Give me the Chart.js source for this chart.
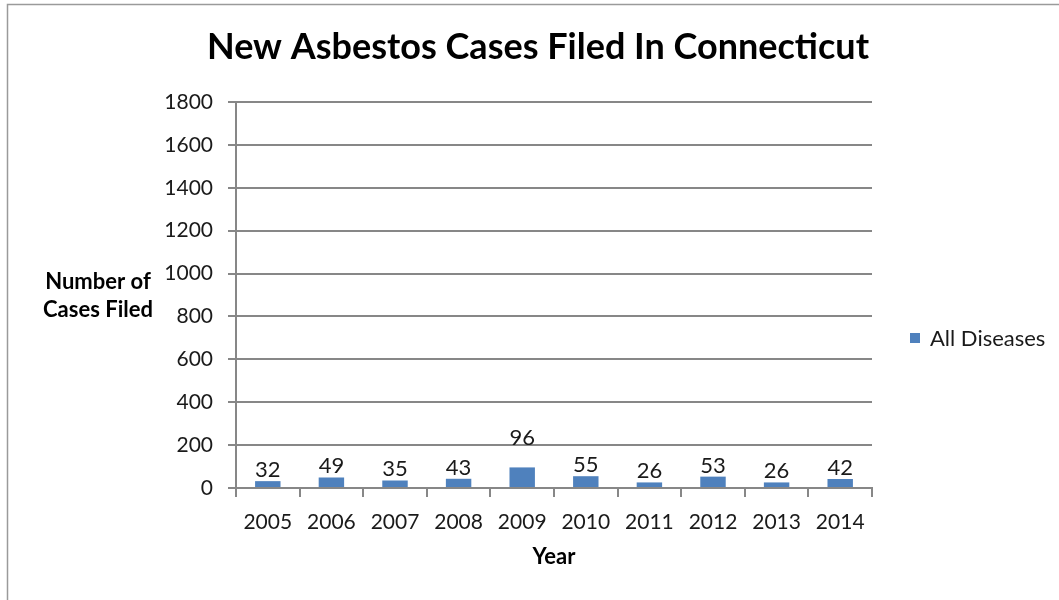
<!DOCTYPE html>
<html>
<head>
<meta charset="utf-8">
<script src="https://cdn.jsdelivr.net/npm/chart.js@4"></script>
<style>
  html, body { margin: 0; padding: 0; background: #fff; }
  #wrap { width: 1059px; height: 600px; position: relative; }
</style>
</head>
<body>
<div id="wrap"><canvas id="chart" width="1059" height="600"></canvas></div>
<script>
const years = ['2005', '2006', '2007', '2008', '2009', '2010', '2011', '2012', '2013', '2014'];
const allDiseases = [32, 49, 35, 43, 96, 55, 26, 53, 26, 42];
const yTicks = [0, 200, 400, 600, 800, 1000, 1200, 1400, 1600, 1800];
const chartTitle = 'New Asbestos Cases Filed In Connecticut';
const seriesName = 'All Diseases';
const yTitle = ['Number of', 'Cases Filed'];
const xTitle = 'Year';

const FONT = 'Lato, "Open Sans", sans-serif';
const BAR = '#4f81bd';
const GRID = '#878787';

// extra text: outer frame, title, axis titles, legend, value labels
const decor = {
    id: 'decor',
    afterDraw(chart) {
        const ctx = chart.ctx;
        const area = chart.chartArea;
        const yScale = chart.scales.y;
        ctx.save();
        // outer frame
        ctx.strokeStyle = '#9a9a9a';
        ctx.lineWidth = 1.5;
        ctx.strokeRect(7.5, 4.5, 1100, 700);

        ctx.fillStyle = '#000';
        ctx.textAlign = 'center';
        ctx.textBaseline = 'middle';
        ctx.font = 'bold 36px ' + FONT;
        ctx.fillText(chartTitle, 538, 47);

        ctx.font = 'bold 22px ' + FONT;
        ctx.fillText(yTitle[0], 98, 282);
        ctx.fillText(yTitle[1], 98, 310);
        ctx.fillText(xTitle, (area.left + area.right) / 2, 557);

        // legend
        ctx.fillStyle = BAR;
        ctx.fillRect(910, 333, 10, 10);
        ctx.fillStyle = '#1a1a1a';
        ctx.textAlign = 'left';
        ctx.font = '22px ' + FONT;
        ctx.fillText(seriesName, 930, 339);

        // value labels, lifted above a gridline they would run into
        const meta = chart.getDatasetMeta(0);
        ctx.textAlign = 'center';
        ctx.textBaseline = 'alphabetic';
        ctx.font = '22px ' + FONT;
        meta.data.forEach((bar, i) => {
            let base = bar.y - 4;
            const top = base - 16;
            yTicks.forEach(t => {
                const gy = yScale.getPixelForValue(t);
                if (t > 0 && top < gy + 4 && top > gy - 4) base = gy;
            });
            ctx.fillText(String(allDiseases[i]), bar.x, base);
        });
        ctx.restore();
    }
};

new Chart(document.getElementById('chart'), {
    type: 'bar',
    data: {
        labels: years,
        datasets: [{
            label: seriesName,
            data: allDiseases,
            backgroundColor: BAR,
            barPercentage: 0.8,
            categoryPercentage: 0.5
        }]
    },
    options: {
        responsive: false,
        animation: false,
        layout: { padding: { left: 0, top: 102, right: 187, bottom: 0 } },
        plugins: {
            legend: { display: false },
            tooltip: { enabled: false }
        },
        scales: {
            x: {
                afterFit: s => { s.height = 112; },
                grid: {
                    offset: true,
                    drawOnChartArea: false,
                    drawTicks: true,
                    tickLength: 9,
                    color: GRID,
                    lineWidth: 2
                },
                border: { color: GRID, width: 2 },
                ticks: { color: '#1a1a1a', font: { family: FONT, size: 21 }, padding: 13, maxRotation: 0 }
            },
            y: {
                min: 0,
                max: 1800,
                afterFit: s => { s.width = 236; },
                afterBuildTicks: s => { s.ticks = yTicks.map(v => ({ value: v })); },
                grid: { color: GRID, lineWidth: 2, tickLength: 8 },
                border: { color: GRID, width: 2 },
                ticks: {
                    color: '#1a1a1a',
                    font: { family: FONT, size: 21 },
                    padding: 15,
                    callback: v => String(v)
                }
            }
        }
    },
    plugins: [decor]
});
</script>
</body>
</html>
